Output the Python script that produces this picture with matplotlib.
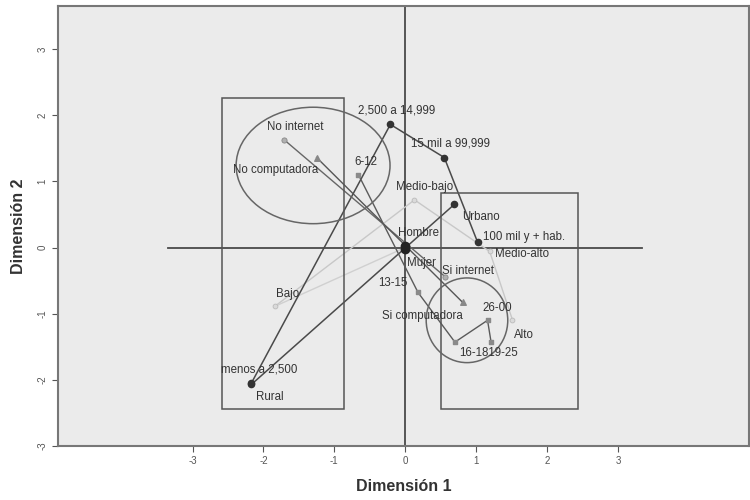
import matplotlib.pyplot as plt
from matplotlib.patches import Rectangle, Ellipse

plt.rcParams['font.family'] = ['Liberation Sans', 'DejaVu Sans']
plt.rcParams['axes.unicode_minus'] = False

# coordenadas de las categorias (dimension 1, dimension 2)
tam_labels = ['menos a 2,500', '2,500 a 14,999', '15 mil a 99,999', '100 mil y + hab.']
tam_x = [-2.17, -0.21, 0.55, 1.02]
tam_y = [-2.05, 1.86, 1.36, 0.08]

reg_labels = ['Rural', 'Urbano']
reg_x = [-2.17, 0.69]
reg_y = [-2.07, 0.65]

sexo_labels = ['Hombre', 'Mujer']
sexo_x = [0.0, 0.0]
sexo_y = [0.03, -0.03]

int_labels = ['No internet', 'Si internet']
int_x = [-1.71, 0.56]
int_y = [1.63, -0.44]

comp_labels = ['No computadora', 'Si computadora']
comp_x = [-1.25, 0.81]
comp_y = [1.36, -0.83]

edad_labels = ['6-12', '13-15', '16-18', '26-00', '19-25']
edad_x = [-0.66, 0.18, 0.70, 1.16, 1.21]
edad_y = [1.10, -0.68, -1.43, -1.10, -1.43]

nivel_labels = ['Bajo', 'Medio-bajo', 'Medio-alto', 'Alto']
nivel_x = [-1.84, 0.13, 1.19, 1.51]
nivel_y = [-0.89, 0.72, -0.06, -1.09]

fig = plt.figure(figsize=(7.5, 5), dpi=100)
ax = fig.add_axes([0.077, 0.108, 0.922, 0.88])
ax.set_facecolor('#ebebeb')

dark = '#4a4a4a'
ax.axhline(0, xmin=(-3.35 + 4.9) / 9.75, xmax=(3.34 + 4.9) / 9.75, color=dark, lw=1.3, zorder=1)
ax.axvline(0, color=dark, lw=1.3, zorder=1)

# lineas claras
ax.plot(nivel_x, nivel_y, color='#c8c8c8', lw=1, zorder=2)
ax.plot([nivel_x[0], 0], [nivel_y[0], 0], color='#d0d0d0', lw=1, zorder=2)
# lineas oscuras
ax.plot(tam_x, tam_y, color=dark, lw=1.1, zorder=3)
ax.plot(reg_x, reg_y, color=dark, lw=1.1, zorder=3)
ax.plot(int_x, int_y, color='#666666', lw=1.0, zorder=3)
ax.plot(comp_x, comp_y, color='#555555', lw=1.0, zorder=3)
ax.plot(edad_x, edad_y, color='#5a5a5a', lw=1.0, zorder=3)

ax.scatter(tam_x, tam_y, s=20, color='#333333', zorder=5)
ax.scatter(reg_x, reg_y, s=20, color='#333333', zorder=5)
ax.scatter(sexo_x, sexo_y, s=36, color='#222222', zorder=5)
ax.scatter(int_x, int_y, s=14, color='#b0b0b0', edgecolor='#888888', lw=0.6, zorder=5)
ax.scatter(comp_x, comp_y, s=16, marker='^', color='#888888', zorder=5)
ax.scatter(edad_x, edad_y, s=12, marker='s', color='#8a8a8a', zorder=5)
ax.scatter(nivel_x, nivel_y, s=12, color='#dadada', edgecolor='#bbbbbb', lw=0.6, zorder=5)

# cajas y elipses
ax.add_patch(Rectangle((-2.59, -2.44), 1.73, 4.70, fill=False, ec='#555555', lw=1.1, zorder=4))
ax.add_patch(Rectangle((0.50, -2.44), 1.93, 3.27, fill=False, ec='#555555', lw=1.1, zorder=4))
ax.add_patch(Ellipse((-1.30, 1.24), 2.17, 1.76, fill=False, ec='#666666', lw=1.1, zorder=4))
ax.add_patch(Ellipse((0.87, -1.10), 1.15, 1.28, fill=False, ec='#666666', lw=1.1, zorder=4))

fs = 8.3
tc = '#333333'
def lab(x, y, s, dx, dy, ha='left'):
    ax.annotate(s, (x, y), xytext=(dx, dy), textcoords='offset points',
                fontsize=fs, color=tc, ha=ha, va='center', zorder=6)

lab(tam_x[0], tam_y[0], tam_labels[0], -22, 10)
lab(tam_x[1], tam_y[1], tam_labels[1], -23, 10)
lab(tam_x[2], tam_y[2], tam_labels[2], -24, 10)
lab(tam_x[3], tam_y[3], tam_labels[3], 4, 4)
lab(reg_x[0], reg_y[0], reg_labels[0], 3, -9)
lab(reg_x[1], reg_y[1], reg_labels[1], 6, -9)
lab(sexo_x[0], sexo_y[0], sexo_labels[0], -5, 9)
lab(sexo_x[1], sexo_y[1], sexo_labels[1], 1, -10)
lab(int_x[0], int_y[0], int_labels[0], -12, 9)
lab(int_x[1], int_y[1], int_labels[1], -2, 4)
lab(comp_x[0], comp_y[0], comp_labels[0], -60, -9)
lab(comp_x[1], comp_y[1], comp_labels[1], -58, -10)
lab(edad_x[0], edad_y[0], edad_labels[0], -3, 9)
lab(edad_x[1], edad_y[1], edad_labels[1], -29, 7)
lab(edad_x[2], edad_y[2], edad_labels[2] + edad_labels[4], 3, -8)
lab(edad_x[3], edad_y[3], edad_labels[3], -4, 9)
lab(nivel_x[0], nivel_y[0], nivel_labels[0], 1, 9)
lab(nivel_x[1], nivel_y[1], nivel_labels[1], -13, 9)
lab(nivel_x[2], nivel_y[2], nivel_labels[2], 4, -2)
lab(nivel_x[3], nivel_y[3], nivel_labels[3], 1, -11)

ax.set_xlim(-4.9, 4.85)
ax.set_ylim(-3, 3.65)
ax.set_xticks([-3, -2, -1, 0, 1, 2, 3])
ax.set_yticks([-3, -2, -1, 0, 1, 2, 3])
ax.tick_params(labelsize=7, colors='#555555', length=4)
for t in ax.get_yticklabels():
    t.set_rotation(90)
    t.set_va('center')
for sp in ax.spines.values():
    sp.set_color('#777777')
    sp.set_linewidth(1.5)

ax.set_xlabel('Dimensión 1', fontsize=11.5, fontweight='bold', color='#333333', labelpad=9)
ax.set_ylabel('Dimensión 2', fontsize=11.5, fontweight='bold', color='#333333', labelpad=8)

plt.savefig('out.png')
